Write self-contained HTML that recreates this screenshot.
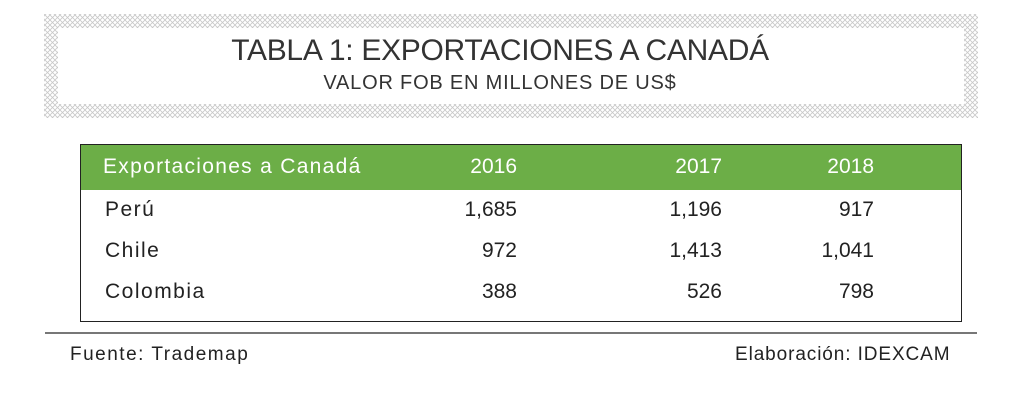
<!DOCTYPE html>
<html><head><meta charset="utf-8"><style>
body{margin:0;width:1024px;height:418px;background:#fff;font-family:"Liberation Sans",sans-serif;color:#222;position:relative;overflow:hidden}
.abs{position:absolute}
</style></head><body>
<svg class="abs" style="left:0;top:0" width="1024" height="418">
<defs><pattern id="h" width="5" height="5" patternUnits="userSpaceOnUse">
<path d="M0,0L5,5M5,0L0,5" stroke="#c8c8c8" stroke-width="0.8"/></pattern></defs>
<rect x="44" y="14" width="934" height="104" fill="url(#h)"/>
<rect x="58" y="28" width="906" height="76" fill="#fff"/>
</svg>
<div class="abs" style="left:0;width:1000px;top:34px;text-align:center;font-size:30px;color:#333;letter-spacing:-0.3px">TABLA 1: EXPORTACIONES A CANADÁ</div>
<div class="abs" style="left:0;width:1000px;top:72px;text-align:center;font-size:20px;color:#333;letter-spacing:0.8px">VALOR FOB EN MILLONES DE US$</div>
<div class="abs" style="left:80px;top:144px;width:880px;height:176px;border:1.5px solid #222"></div>
<div class="abs" style="left:81px;top:145px;width:880px;height:45px;background:#6cae47"></div>
<div id="cells"></div>
<div class="abs" style="left:45px;top:332px;width:932px;height:2px;background:#777"></div>
<div class="abs" style="left:70px;top:344px;font-size:19px;letter-spacing:1.5px">Fuente: Trademap</div>
<div class="abs" style="left:735px;top:344px;font-size:19px;letter-spacing:0.9px">Elaboración: IDEXCAM</div>
<script>
const years=["2016","2017","2018"];
const countries=["Perú","Chile","Colombia"];
const v2016=["1,685","972","388"];
const v2017=["1,196","1,413","526"];
const v2018=["917","1,041","798"];
const cols=[v2016,v2017,v2018];
const rightEdges=[517,722,874];
const c=document.getElementById('cells');
function add(txt,left,right,top,color,name,ls){
 const d=document.createElement('div');d.className='abs';
 
 
 d.style.top=top+'px';d.style.fontSize='21px';d.style.color=color;
 if(ls)d.style.letterSpacing=ls+'px';
 if(right!=null){d.style.right=(1024-right)+'px';}else d.style.left=left+'px';
 d.textContent=txt;c.appendChild(d);
}
add("Exportaciones a Canadá",103,null,155,"#fff","header-label",1.3);
years.forEach((y,i)=>add(y,null,rightEdges[i],155,"#fff","header-year-"+y));
countries.forEach((n,r)=>{
 const top=198+r*41;
 add(n,105,null,top,"#222","row-label-"+r,1.5);
 cols.forEach((col,i)=>add(col[r],null,rightEdges[i],top,"#222","cell-"+r+"-"+i));
});
</script>
</body></html>
